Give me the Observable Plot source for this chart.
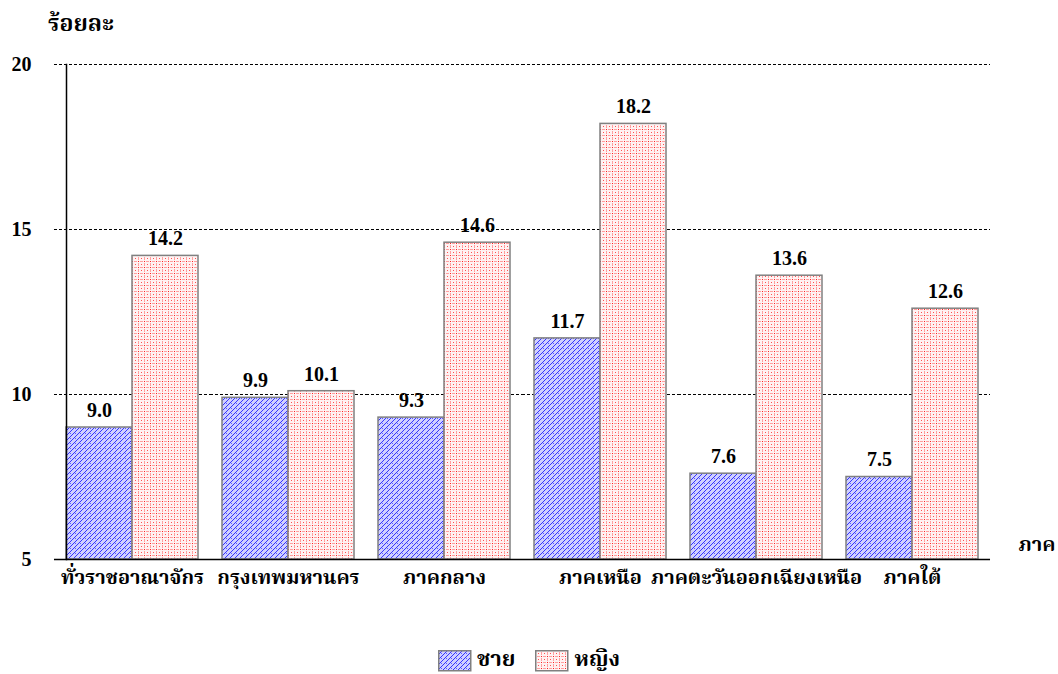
<!DOCTYPE html>
<html>
<head>
<meta charset="utf-8">
<script src="https://cdn.jsdelivr.net/npm/d3@7"></script>
<script src="https://cdn.jsdelivr.net/npm/@observablehq/plot@0.6"></script>
<style>
  html, body { margin: 0; padding: 0; background: #fff; }
  body { width: 1058px; height: 674px; overflow: hidden; font-family: "Liberation Serif", "Times New Roman", "Noto Serif Thai", "Norasi", "Kinnari", serif; font-weight: bold; }
  #title { height: 45px; position: relative; }
  #title span { position: absolute; left: 48px; top: 7px; font-size: 23px; }
  #legend { height: 44px; box-sizing: border-box; padding-top: 17px; display: flex; justify-content: center; align-items: center; }
  .item { display: flex; align-items: center; font-size: 22px; margin: 0 10px; }
  .item svg { margin-right: 5px; }
  #chart svg text { font-family: "Liberation Serif", "Times New Roman", "Noto Serif Thai", "Norasi", "Kinnari", serif !important; font-weight: bold; }
  #chart svg g[aria-label="y-axis tick label"] text, #chart svg g[aria-label="fx-axis tick label"] text { font-size: 20px; }
</style>
</head>
<body>
<svg width="0" height="0" style="position:absolute">
  <defs>
    <pattern id="patBlue" patternUnits="userSpaceOnUse" width="5" height="5">
      <rect width="5" height="5" fill="#d0d0ff"/>
      <path d="M-1,1 l2,-2 M0,5 l5,-5 M4,6 l2,-2" stroke="#3434ff" stroke-width="1"/>
      <rect x="3" y="3" width="1" height="1" fill="#5a5aff"/>
    </pattern>
    <pattern id="patRed" patternUnits="userSpaceOnUse" width="6" height="6">
      <rect width="6" height="6" fill="#fff2f2"/>
      <rect x="0" y="0" width="1" height="1" fill="#ff2020"/>
      <rect x="2" y="0" width="3" height="1" fill="#ffa0a0"/>
      <rect x="0" y="2" width="1" height="3" fill="#ffa0a0"/>
      <rect x="3" y="3" width="1" height="1" fill="#ff5050"/>
    </pattern>
  </defs>
</svg>
<div id="title"><span>ร้อยละ</span></div>
<div id="chart"></div>
<div id="legend"></div>
<script>
const regions = ["ทั่วราชอาณาจักร", "กรุงเทพมหานคร", "ภาคกลาง", "ภาคเหนือ", "ภาคตะวันออกเฉียงเหนือ", "ภาคใต้"];
const sexes = ["ชาย", "หญิง"];
const male = [9.0, 9.9, 9.3, 11.7, 7.6, 7.5];
const female = [14.2, 10.1, 14.6, 18.2, 13.6, 12.6];
const yTicks = [5, 10, 15, 20];
const xAxisTitle = "ภาค";
const fills = ["url(#patBlue)", "url(#patRed)"];

const data = regions.flatMap((r, i) => [
  {region: r, sex: sexes[0], value: male[i]},
  {region: r, sex: sexes[1], value: female[i]}
]);
const yMin = yTicks[0];

const W = 1058, mL = 54, mR = 68, pInner = 0.154, pOuter = 0.077;
// half of the gap between facets (equals outer padding), so per-facet rules join up
const step = (W - mL - mR) / (regions.length - pInner + 2 * pOuter);
const halfGap = step * pInner / 2;

const chart = Plot.plot({
  width: W,
  height: 585,
  marginLeft: mL,
  marginRight: mR,
  marginTop: 19,
  marginBottom: 71,
  style: {fontWeight: "bold", fontSize: "20px", background: "#fff", color: "#000", overflow: "visible"},
  fx: {domain: regions, paddingInner: pInner, paddingOuter: pOuter, label: null, tickSize: 0, tickPadding: 10},
  x: {domain: sexes, padding: 0, axis: null},
  y: {domain: [yTicks[0], yTicks[yTicks.length - 1]], ticks: yTicks, tickSize: 0, tickPadding: 35, label: null, tickFormat: d => String(d)},
  marks: [
    Plot.ruleY(yTicks.slice(1), {stroke: "#000", strokeWidth: 1, strokeDasharray: "3,2", insetLeft: -halfGap, insetRight: -halfGap}),
    Plot.barY(data, {fx: "region", x: "sex", y1: yMin, y2: "value", fill: d => fills[sexes.indexOf(d.sex)], stroke: "#808080", strokeWidth: 1.5}),
    Plot.text(data, {fx: "region", x: "sex", y: "value", text: d => d.value.toFixed(1), dy: -17, fontSize: 20, fontWeight: "bold"}),
    Plot.ruleY([yMin], {stroke: "#000", strokeWidth: 1.5, insetLeft: -halfGap, insetRight: -halfGap}),
    Plot.frame({anchor: "left", stroke: "#000", strokeWidth: 1.5, facet: "super"}),
    Plot.text([xAxisTitle], {frameAnchor: "bottom-right", dx: 40, dy: -9, textAnchor: "start", fontSize: 20, fontWeight: "bold", facet: "super"})
  ]
});
document.getElementById("chart").appendChild(chart);

const legend = document.getElementById("legend");
sexes.forEach((s, i) => {
  const item = document.createElement("div");
  item.className = "item";
  item.innerHTML = `<svg width="34" height="22"><rect x="0.75" y="0.75" width="32" height="20" fill="${fills[i]}" stroke="#808080" stroke-width="1.5"/></svg><span>${s}</span>`;
  legend.appendChild(item);
});
</script>
</body>
</html>
